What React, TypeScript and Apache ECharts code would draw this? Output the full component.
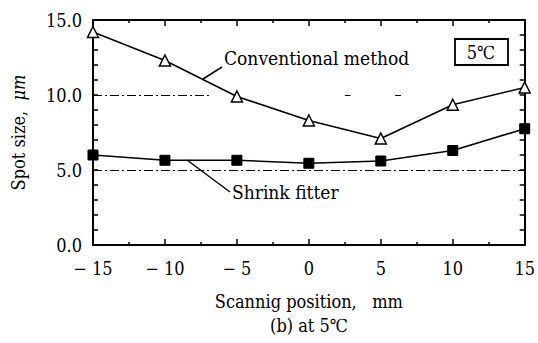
import React, { useEffect, useRef } from "react";
import * as echarts from "echarts";

const positions = [-15, -10, -5, 0, 5, 10, 15];
const conventional = [14.2, 12.3, 9.9, 8.3, 7.1, 9.35, 10.5];
const shrinkFitter = [6.0, 5.65, 5.65, 5.45, 5.6, 6.3, 7.75];
const yTicks = [0, 5, 10, 15];

const FONT = "DejaVu Serif Condensed";

export default function App() {
  const ref = useRef<HTMLDivElement>(null);
  useEffect(() => {
    if (!ref.current) return;
    const chart = echarts.init(ref.current, undefined, { renderer: "svg" });
    const axisLine = { show: true, onZero: false, lineStyle: { color: "#000", width: 2 } };
    const tickStyle = { color: "#000", width: 1.5 };
    const xBase = {
      type: "value" as const,
      min: -15,
      max: 15,
      interval: 5,
      axisLine,
      axisTick: { show: true, inside: true, length: 6, lineStyle: tickStyle },
      minorTick: { show: true, splitNumber: 2, length: 3, lineStyle: tickStyle },
      splitLine: { show: false },
    };
    const yBase = {
      type: "value" as const,
      min: 0,
      max: 15,
      interval: 5,
      axisLine,
      axisTick: { show: true, inside: true, length: 5, lineStyle: tickStyle },
      minorTick: { show: true, splitNumber: 5, length: 5, lineStyle: tickStyle },
      splitLine: { show: false },
    };
    chart.setOption({
      animation: false,
      backgroundColor: "#fff",
      grid: { left: 93, right: 10, top: 20, bottom: 98 },
      xAxis: [
        {
          ...xBase,
          position: "bottom",
          name: "Scannig position,   mm",
          nameLocation: "middle",
          nameGap: 47,
          nameTextStyle: { fontFamily: FONT, fontSize: 18, color: "#000" },
          axisLabel: {
            margin: 14,
            fontFamily: FONT,
            fontSize: 18,
            color: "#000",
            formatter: (v: number) => (v < 0 ? "− " + Math.abs(v) : String(v)),
          },
        },
        { ...xBase, position: "top", axisLabel: { show: false } },
      ],
      yAxis: [
        {
          ...yBase,
          position: "left",
          name: "Spot size,  {i|μm}",
          nameLocation: "middle",
          nameGap: 66,
          nameRotate: 90,
          nameTextStyle: {
            fontFamily: FONT,
            fontSize: 18,
            color: "#000",
            rich: { i: { fontFamily: FONT, fontSize: 18, fontStyle: "italic", color: "#000" } },
          },
          axisLabel: {
            margin: 11,
            fontFamily: FONT,
            fontSize: 18,
            color: "#000",
            formatter: (v: number) => (yTicks.includes(v) ? v.toFixed(1) : ""),
          },
        },
        { ...yBase, position: "right", axisLabel: { show: false } },
      ],
      series: [
        {
          type: "line",
          data: positions.map((p, i) => [p, conventional[i]]),
          symbol: "triangle",
          symbolSize: 11,
          lineStyle: { color: "#000", width: 1.6 },
          itemStyle: { color: "#fff", borderColor: "#000", borderWidth: 1.5 },
          z: 5,
        },
        {
          type: "line",
          data: positions.map((p, i) => [p, shrinkFitter[i]]),
          symbol: "rect",
          symbolSize: 10,
          lineStyle: { color: "#000", width: 1.6 },
          itemStyle: { color: "#000", borderColor: "#000" },
          z: 5,
          markLine: {
            silent: true,
            symbol: "none",
            label: { show: false },
            lineStyle: { color: "#000", width: 1, type: [9, 3, 2, 3] },
            data: [
              [{ coord: [-15, 5] }, { coord: [15, 5] }],
              [{ coord: [-15, 10] }, { coord: [-6.8, 10] }],
              [{ coord: [2.5, 10] }, { coord: [2.9, 10] }],
              [{ coord: [6.0, 10] }, { coord: [6.4, 10] }],
            ],
          },
        },
      ],
      graphic: [
        { type: "line", shape: { x1: 203, y1: 79, x2: 222, y2: 67 }, style: { stroke: "#000", lineWidth: 1.5 } },
        {
          type: "text",
          x: 224,
          y: 58,
          style: { text: "Conventional method", fontFamily: FONT, fontSize: 19, fill: "#000", verticalAlign: "middle" },
        },
        { type: "line", shape: { x1: 187, y1: 160, x2: 230, y2: 192 }, style: { stroke: "#000", lineWidth: 1.5 } },
        {
          type: "text",
          x: 232,
          y: 192,
          style: { text: "Shrink fitter", fontFamily: FONT, fontSize: 19, fill: "#000", verticalAlign: "middle" },
        },
        {
          type: "rect",
          shape: { x: 455, y: 39, width: 53, height: 26 },
          style: { fill: "#fff", stroke: "#000", lineWidth: 1.8 },
        },
        {
          type: "text",
          x: 481,
          y: 52,
          style: { text: "5℃", fontFamily: FONT, fontSize: 18, fill: "#000", align: "center", verticalAlign: "middle" },
        },
        {
          type: "text",
          x: 309,
          y: 325,
          style: { text: "(b) at 5℃", fontFamily: FONT, fontSize: 18, fill: "#000", align: "center", verticalAlign: "middle" },
        },
      ],
    });
    return () => chart.dispose();
  }, []);
  return <div ref={ref} style={{ width: 538, height: 343, position: "absolute", left: 0, top: 0 }} />;
}
